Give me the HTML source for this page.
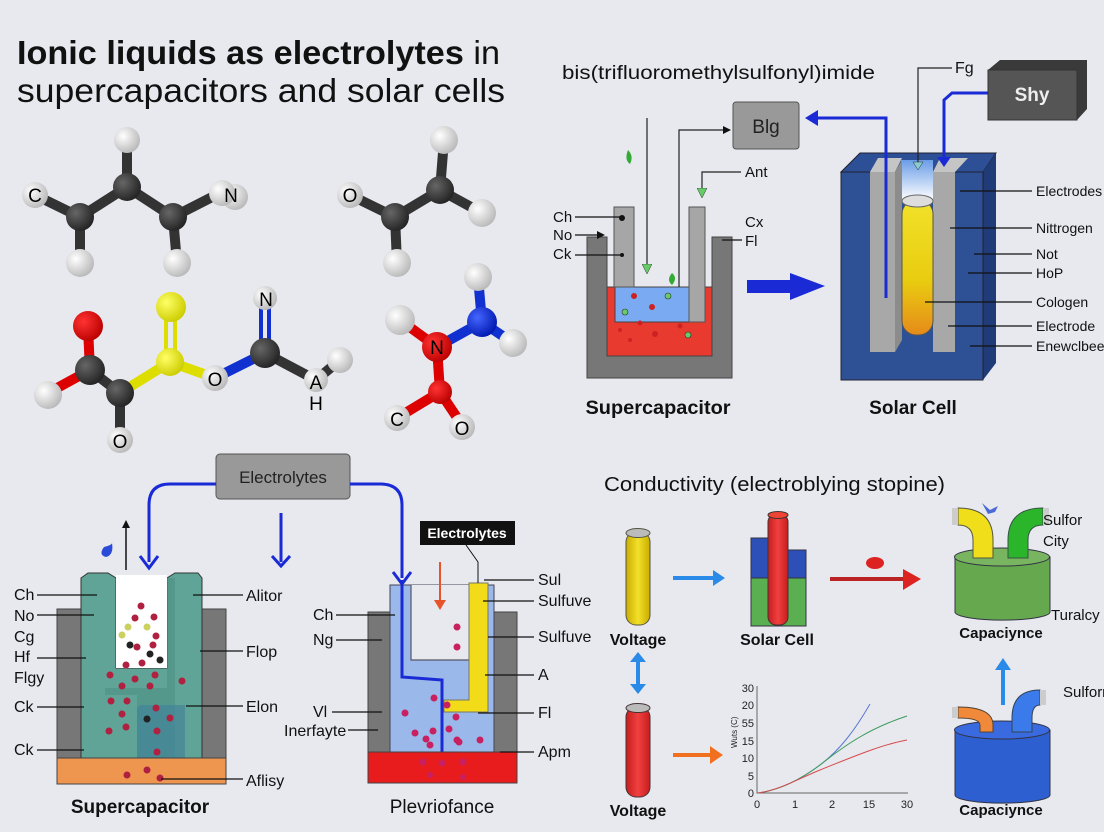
<!DOCTYPE html>
<html><head><meta charset="utf-8"><style>
html,body{margin:0;padding:0;background:#e7e9ef;}
svg{display:block;font-family:"Liberation Sans",sans-serif;}
</style></head><body>
<svg width="1104" height="832" viewBox="0 0 1104 832" xmlns="http://www.w3.org/2000/svg">
<defs>
<radialGradient id="gw" cx="35%" cy="35%" r="70%"><stop offset="0" stop-color="#fff"/><stop offset="1" stop-color="#b8b8b8"/></radialGradient>
<radialGradient id="gk" cx="35%" cy="35%" r="70%"><stop offset="0" stop-color="#666"/><stop offset="1" stop-color="#222"/></radialGradient>
<radialGradient id="gr" cx="35%" cy="35%" r="70%"><stop offset="0" stop-color="#f33"/><stop offset="1" stop-color="#b00"/></radialGradient>
<radialGradient id="gy" cx="35%" cy="35%" r="70%"><stop offset="0" stop-color="#ff6"/><stop offset="1" stop-color="#cc0"/></radialGradient>
<radialGradient id="gb" cx="35%" cy="35%" r="70%"><stop offset="0" stop-color="#46f"/><stop offset="1" stop-color="#0018b0"/></radialGradient>
<linearGradient id="tube" x1="0" y1="0" x2="0" y2="1"><stop offset="0" stop-color="#f1e22a"/><stop offset="0.6" stop-color="#e9cc10"/><stop offset="1" stop-color="#e58a1a"/></linearGradient>
<linearGradient id="glow" x1="0" y1="0" x2="0" y2="1"><stop offset="0" stop-color="#6a9de8"/><stop offset="1" stop-color="#ffffff"/></linearGradient>
<linearGradient id="cylY" x1="0" x2="1"><stop offset="0" stop-color="#c9ad00"/><stop offset="0.5" stop-color="#f3e02a"/><stop offset="1" stop-color="#c9ad00"/></linearGradient>
<linearGradient id="cylR" x1="0" x2="1"><stop offset="0" stop-color="#c81d1d"/><stop offset="0.5" stop-color="#f04040"/><stop offset="1" stop-color="#c81d1d"/></linearGradient>
<marker id="ak" markerWidth="8" markerHeight="8" refX="6" refY="4" orient="auto" markerUnits="userSpaceOnUse"><path d="M0,0 L8,4 L0,8 Z" fill="#111"/></marker>
<marker id="ag" markerWidth="10" markerHeight="10" refX="8" refY="5" orient="auto" markerUnits="userSpaceOnUse"><path d="M0,0 L10,5 L0,10 Z" fill="#6c6" stroke="#333" stroke-width="0.5"/></marker>
</defs>

<!-- Title -->
<text x="17" y="64" font-size="33" font-weight="bold" fill="#111" textLength="483" lengthAdjust="spacingAndGlyphs">Ionic liquids as electrolytes <tspan font-weight="normal">in</tspan></text>
<text x="17" y="102" font-size="33" fill="#111" textLength="488" lengthAdjust="spacingAndGlyphs">supercapacitors and solar cells</text>

<!-- Molecule 1 -->
<g stroke-linecap="round">
<g stroke="#333" stroke-width="10"><line x1="35" y1="195" x2="80" y2="217"/><line x1="80" y1="217" x2="127" y2="187"/><line x1="127" y1="187" x2="173" y2="217"/><line x1="173" y1="217" x2="220" y2="193"/><line x1="127" y1="187" x2="127" y2="140"/><line x1="80" y1="217" x2="80" y2="263"/><line x1="173" y1="217" x2="177" y2="263"/></g>
<circle cx="127" cy="140" r="13" fill="url(#gw)"/><circle cx="80" cy="263" r="14" fill="url(#gw)"/><circle cx="177" cy="263" r="14" fill="url(#gw)"/>
<circle cx="35" cy="195" r="13" fill="url(#gw)"/><circle cx="235" cy="197" r="13" fill="url(#gw)"/><circle cx="222" cy="193" r="13" fill="url(#gw)"/>
<circle cx="80" cy="217" r="14" fill="url(#gk)"/><circle cx="127" cy="187" r="14" fill="url(#gk)"/><circle cx="173" cy="217" r="14" fill="url(#gk)"/>
</g>
<text x="35" y="202" font-size="19" text-anchor="middle">C</text>
<text x="231" y="202" font-size="19" text-anchor="middle">N</text>
<!-- Molecule 2 -->
<g stroke="#333" stroke-width="10"><line x1="350" y1="195" x2="395" y2="217"/><line x1="395" y1="217" x2="440" y2="190"/><line x1="440" y1="190" x2="444" y2="140"/><line x1="440" y1="190" x2="482" y2="213"/><line x1="395" y1="217" x2="397" y2="263"/></g>
<circle cx="444" cy="140" r="14" fill="url(#gw)"/><circle cx="482" cy="213" r="14" fill="url(#gw)"/><circle cx="397" cy="263" r="14" fill="url(#gw)"/><circle cx="350" cy="195" r="13" fill="url(#gw)"/>
<circle cx="395" cy="217" r="14" fill="url(#gk)"/><circle cx="440" cy="190" r="14" fill="url(#gk)"/>
<text x="350" y="202" font-size="19" text-anchor="middle">O</text>
<!-- Molecule 3 -->
<g stroke-width="10"><line x1="88" y1="328" x2="90" y2="370" stroke="#d00"/><line x1="90" y1="370" x2="48" y2="393" stroke="#d00"/><line x1="90" y1="370" x2="120" y2="393" stroke="#333"/><line x1="120" y1="393" x2="120" y2="438" stroke="#333"/><line x1="120" y1="393" x2="170" y2="362" stroke="#dd0"/><line x1="170" y1="362" x2="215" y2="378" stroke="#dd0"/><line x1="215" y1="378" x2="265" y2="353" stroke="#1030d0"/><line x1="265" y1="353" x2="316" y2="380" stroke="#333"/><line x1="316" y1="380" x2="340" y2="360" stroke="#333"/></g>
<g stroke="#dd0" stroke-width="4"><line x1="166" y1="362" x2="166" y2="310"/><line x1="175" y1="362" x2="175" y2="310"/></g>
<g stroke="#1030d0" stroke-width="4"><line x1="261" y1="353" x2="261" y2="305"/><line x1="269" y1="353" x2="269" y2="305"/></g>
<circle cx="88" cy="326" r="15" fill="url(#gr)"/><circle cx="48" cy="395" r="14" fill="url(#gw)"/><circle cx="90" cy="370" r="15" fill="url(#gk)"/><circle cx="120" cy="393" r="14" fill="url(#gk)"/>
<circle cx="120" cy="440" r="13" fill="url(#gw)"/>
<circle cx="171" cy="307" r="15" fill="url(#gy)"/><circle cx="170" cy="362" r="14" fill="url(#gy)"/>
<circle cx="215" cy="378" r="13" fill="url(#gw)"/><circle cx="265" cy="353" r="15" fill="url(#gk)"/><circle cx="265" cy="298" r="12" fill="url(#gw)"/>
<circle cx="340" cy="360" r="13" fill="url(#gw)"/><circle cx="316" cy="380" r="12" fill="url(#gw)"/>
<text x="215" y="386" font-size="19" text-anchor="middle">O</text>
<text x="266" y="306" font-size="19" text-anchor="middle">N</text>
<text x="316" y="389" font-size="19" text-anchor="middle">A</text>
<text x="316" y="410" font-size="19" text-anchor="middle">H</text>
<text x="120" y="448" font-size="19" text-anchor="middle">O</text>
<!-- Molecule 4 -->
<g stroke-width="10"><line x1="400" y1="320" x2="437" y2="347" stroke="#d00"/><line x1="437" y1="347" x2="440" y2="392" stroke="#d00"/><line x1="440" y1="392" x2="397" y2="418" stroke="#d00"/><line x1="440" y1="392" x2="462" y2="425" stroke="#d00"/><line x1="437" y1="347" x2="482" y2="322" stroke="#1030d0"/><line x1="482" y1="322" x2="478" y2="277" stroke="#1030d0"/><line x1="482" y1="322" x2="513" y2="343" stroke="#1030d0"/></g>
<circle cx="400" cy="320" r="15" fill="url(#gw)"/><circle cx="478" cy="277" r="14" fill="url(#gw)"/><circle cx="513" cy="343" r="14" fill="url(#gw)"/>
<circle cx="482" cy="322" r="15" fill="url(#gb)"/><circle cx="437" cy="347" r="15" fill="url(#gr)"/><circle cx="440" cy="392" r="12" fill="url(#gr)"/>
<circle cx="397" cy="418" r="13" fill="url(#gw)"/><circle cx="462" cy="427" r="13" fill="url(#gw)"/>
<text x="437" y="354" font-size="19" text-anchor="middle">N</text>
<text x="397" y="426" font-size="19" text-anchor="middle">C</text>
<text x="462" y="435" font-size="19" text-anchor="middle">O</text>

<!-- Top right -->
<text x="562" y="79" font-size="19" fill="#111" textLength="313" lengthAdjust="spacingAndGlyphs">bis(trifluoromethylsulfonyl)imide</text>
<!-- Supercap 1 -->
<path d="M587,237 H607 V356 H712 V237 H732 V378 H587 Z" fill="#777" stroke="#444"/>
<rect x="607" y="287" width="105" height="69" fill="#e83a2e" stroke="#444"/>
<rect x="615" y="287" width="75" height="35" fill="#7aaaf2" stroke="#444"/>
<rect x="614" y="207" width="20" height="80" fill="#a6a6a6" stroke="#555"/>
<rect x="689" y="207" width="16" height="115" fill="#a6a6a6" stroke="#555"/>
<g fill="#c22"><circle cx="634" cy="296" r="3"/><circle cx="652" cy="307" r="3"/><circle cx="640" cy="323" r="2.5"/><circle cx="680" cy="326" r="2.5"/><circle cx="655" cy="334" r="3"/><circle cx="630" cy="340" r="2"/><circle cx="620" cy="330" r="2"/></g>
<g fill="#6c6" stroke="#333" stroke-width="0.6"><circle cx="625" cy="312" r="3"/><circle cx="668" cy="296" r="3"/><circle cx="688" cy="335" r="3"/></g>
<line x1="647" y1="118" x2="647" y2="272" stroke="#222" stroke-width="1.2" marker-end="url(#ag)"/>
<polyline points="679,287 679,130 729,130" fill="none" stroke="#222" stroke-width="1.2" marker-end="url(#ak)"/>
<polyline points="741,172 702,172 702,196" fill="none" stroke="#222" stroke-width="1.2" marker-end="url(#ag)"/>
<path d="M628,150 q6,6 2,14 q-6,-4 -2,-14z" fill="#3a3"/><path d="M672,273 q6,5 0,12 q-6,-5 0,-12z" fill="#3a3"/>
<g font-size="15" fill="#111"><text x="553" y="222">Ch</text><text x="553" y="240">No</text><text x="553" y="259">Ck</text><text x="745" y="177">Ant</text><text x="745" y="227">Cx</text><text x="745" y="246">Fl</text></g>
<g stroke="#111" stroke-width="1.2"><line x1="575" y1="217" x2="620" y2="217"/><line x1="575" y1="235" x2="603" y2="235" marker-end="url(#ak)"/><line x1="575" y1="255" x2="622" y2="255"/><line x1="722" y1="240" x2="742" y2="240"/></g>
<circle cx="622" cy="218" r="3" fill="#111"/><circle cx="622" cy="255" r="2" fill="#111"/>
<text x="658" y="414" font-size="19" font-weight="bold" text-anchor="middle" fill="#111" textLength="145" lengthAdjust="spacingAndGlyphs">Supercapacitor</text>
<!-- Blg -->
<rect x="733" y="102" width="66" height="47" rx="3" fill="#999" stroke="#555"/>
<text x="766" y="133" font-size="19" text-anchor="middle" fill="#222">Blg</text>
<polyline points="886,300 886,118 808,118" fill="none" stroke="#1a2bd6" stroke-width="3"/>
<path d="M805,118 l13,-8 v16z" fill="#1a2bd6"/>
<path d="M879,290 h14 l-7,12 z" fill="#1a2bd6"/>
<!-- big arrow -->
<rect x="747" y="280" width="45" height="13" fill="#1a2bd6"/><path d="M790,273 L825,286 L790,300 Z" fill="#1a2bd6"/>
<!-- Solar cell -->
<path d="M841,172 L860,153 L996,153 L983,172 Z" fill="#2d4f96" stroke="#223"/>
<path d="M983,172 L996,153 L996,363 L983,380 Z" fill="#1f3b78"/>
<rect x="841" y="172" width="142" height="208" fill="#2e5196" stroke="#223"/>
<rect x="901" y="160" width="32" height="40" fill="url(#glow)"/>
<path d="M870,172 L878,158 L902,158 L895,172 Z" fill="#c5c5c5"/><rect x="870" y="172" width="25" height="180" fill="#a8a8a8"/><path d="M895,172 L902,160 V340 L895,352Z" fill="#8c8c8c"/>
<path d="M933,172 L940,158 L968,158 L955,172 Z" fill="#c5c5c5"/><rect x="933" y="172" width="22" height="180" fill="#a8a8a8"/>
<rect x="902" y="200" width="31" height="135" rx="14" fill="url(#tube)" stroke="#555"/>
<ellipse cx="917.5" cy="201" rx="15.5" ry="6" fill="#ddd" stroke="#666"/>
<line x1="886" y1="118" x2="886" y2="298" stroke="#1a2bd6" stroke-width="3"/>
<polyline points="988,93 952,93 944,100 944,160" fill="none" stroke="#1a2bd6" stroke-width="3"/>
<path d="M937,157 h14 l-7,10 z" fill="#1a2bd6"/>
<polyline points="952,68 918,68 918,165" fill="none" stroke="#222" stroke-width="1.2"/>
<path d="M913,162 h10 l-5,8z" fill="#8cc" stroke="#333" stroke-width="0.5"/>
<text x="955" y="73" font-size="16" fill="#111">Fg</text>
<g stroke="#111" stroke-width="1.2"><line x1="960" y1="191" x2="1032" y2="191"/><line x1="950" y1="228" x2="1032" y2="228"/><line x1="974" y1="254" x2="1032" y2="254"/><line x1="968" y1="273" x2="1032" y2="273"/><line x1="925" y1="302" x2="1032" y2="302"/><line x1="948" y1="326" x2="1032" y2="326"/><line x1="970" y1="346" x2="1032" y2="346"/></g>
<g font-size="14" fill="#111"><text x="1036" y="196">Electrodes</text><text x="1036" y="233">Nittrogen</text><text x="1036" y="259">Not</text><text x="1036" y="278">HoP</text><text x="1036" y="307">Cologen</text><text x="1036" y="331">Electrode</text><text x="1036" y="351">Enewclbee</text></g>
<text x="913" y="414" font-size="19" font-weight="bold" text-anchor="middle" fill="#111">Solar Cell</text>
<!-- Shy -->
<path d="M988,70 L1000,60 L1087,60 L1087,109 L1077,120 Z" fill="#3a3a3a"/>
<rect x="988" y="70" width="89" height="50" fill="#555" stroke="#333"/>
<text x="1032" y="101" font-size="19" font-weight="bold" text-anchor="middle" fill="#eee">Shy</text>

<!-- Bottom left -->
<rect x="216" y="454" width="134" height="45" rx="4" fill="#999" stroke="#555"/>
<text x="283" y="483" font-size="17" text-anchor="middle" fill="#222">Electrolytes</text>
<path d="M216,484 H170 Q149,484 149,505 V562" fill="none" stroke="#1a2bd6" stroke-width="3"/>
<path d="M140,556 L149,568 L158,556" fill="none" stroke="#1a2bd6" stroke-width="3"/>
<path d="M350,484 H380 Q402,484 402,505 V578" fill="none" stroke="#1a2bd6" stroke-width="3"/>
<path d="M393,572 L402,584 L411,572" fill="none" stroke="#1a2bd6" stroke-width="3"/>
<line x1="281" y1="513" x2="281" y2="562" stroke="#1a2bd6" stroke-width="3"/><path d="M272,556 L281,566 L290,556" fill="none" stroke="#1a2bd6" stroke-width="3"/>
<line x1="126" y1="570" x2="126" y2="522" stroke="#111" stroke-width="1.5" marker-end="url(#ak)"/>
<path d="M104,547 q8,-2 8,-4 q2,12 -6,14 q-8,-2 -2,-10z" fill="#2a4ad8"/>
<!-- supercap 2 -->
<rect x="57" y="609" width="169" height="175" fill="#777" stroke="#444"/>
<path d="M81,578 L88,573 L108,573 L116,578 V668 H167 V578 L175,573 L198,573 L202,578 V758 H81Z" fill="#5fa496" stroke="#333"/>
<rect x="116" y="575" width="51" height="93" fill="#fff"/>
<path d="M105,578 V688 H167 V578 H175 V758 H137 V695 L105,695 Z" fill="#4a8c82" opacity="0.5"/>
<path d="M137,758 V710 Q137,705 142,705 H185 V758Z" fill="#3f7f9a" opacity="0.6"/>
<rect x="57" y="758" width="169" height="26" fill="#ee9650" stroke="#444"/>
<g fill="#b02040"><circle cx="141" cy="606" r="3.5"/><circle cx="135" cy="618" r="3.5"/><circle cx="154" cy="617" r="3.5"/><circle cx="156" cy="636" r="3.5"/><circle cx="137" cy="647" r="3.5"/><circle cx="142" cy="663" r="3.5"/><circle cx="153" cy="645" r="3.5"/><circle cx="126" cy="665" r="3.5"/><circle cx="110" cy="675" r="3.5"/><circle cx="135" cy="679" r="3.5"/><circle cx="155" cy="675" r="3.5"/><circle cx="122" cy="686" r="3.5"/><circle cx="150" cy="686" r="3.5"/><circle cx="182" cy="681" r="3.5"/><circle cx="111" cy="701" r="3.5"/><circle cx="127" cy="701" r="3.5"/><circle cx="156" cy="708" r="3.5"/><circle cx="122" cy="714" r="3.5"/><circle cx="170" cy="718" r="3.5"/><circle cx="109" cy="731" r="3.5"/><circle cx="126" cy="727" r="3.5"/><circle cx="157" cy="731" r="3.5"/><circle cx="157" cy="752" r="3.5"/><circle cx="127" cy="775" r="3.5"/><circle cx="147" cy="770" r="3.5"/><circle cx="160" cy="778" r="3.5"/></g>
<g fill="#ccd060"><circle cx="128" cy="627" r="3.5"/><circle cx="147" cy="627" r="3.5"/><circle cx="122" cy="635" r="3.5"/></g>
<g fill="#222"><circle cx="130" cy="645" r="3.5"/><circle cx="150" cy="654" r="3.5"/><circle cx="160" cy="660" r="3.5"/><circle cx="147" cy="719" r="3.5"/></g>
<g font-size="16" fill="#111"><text x="14" y="600">Ch</text><text x="14" y="621">No</text><text x="14" y="642">Cg</text><text x="14" y="662">Hf</text><text x="14" y="683">Flgy</text><text x="14" y="712">Ck</text><text x="14" y="755">Ck</text><text x="246" y="601">Alitor</text><text x="246" y="657">Flop</text><text x="246" y="712">Elon</text><text x="246" y="786">Aflisy</text></g>
<g stroke="#111" stroke-width="1.2"><line x1="37" y1="595" x2="97" y2="595"/><line x1="37" y1="615" x2="94" y2="615"/><line x1="37" y1="658" x2="86" y2="658"/><line x1="37" y1="707" x2="84" y2="707"/><line x1="37" y1="750" x2="84" y2="750"/><line x1="193" y1="595" x2="243" y2="595"/><line x1="200" y1="651" x2="243" y2="651"/><line x1="186" y1="706" x2="243" y2="706"/><line x1="161" y1="779" x2="243" y2="779"/></g>
<text x="140" y="813" font-size="19" font-weight="bold" text-anchor="middle" fill="#111">Supercapacitor</text>
<!-- right device -->
<rect x="368" y="612" width="149" height="171" fill="#777" stroke="#444"/>
<rect x="390" y="585" width="104" height="167" fill="#9ab9ea" stroke="#445"/>
<rect x="411" y="585" width="58" height="75" fill="#e7e9ef"/>
<polyline points="411,585 411,660 469,660" fill="none" stroke="#556" stroke-width="1.2"/>
<path d="M469,583 H488 V712 H444 V700 H469 Z" fill="#f2dc1a" stroke="#776" stroke-width="1"/>
<polyline points="402,580 402,677 442,680 442,752" fill="none" stroke="#1a2bd6" stroke-width="3"/>
<rect x="368" y="752" width="149" height="31" fill="#e81c1c" stroke="#444"/>
<g fill="#c82060"><circle cx="457" cy="627" r="3.5"/><circle cx="457" cy="647" r="3.5"/><circle cx="434" cy="698" r="3.5"/><circle cx="447" cy="705" r="3.5"/><circle cx="456" cy="717" r="3.5"/><circle cx="449" cy="729" r="3.5"/><circle cx="426" cy="739" r="3.5"/><circle cx="430" cy="745" r="3.5"/><circle cx="405" cy="713" r="3.5"/><circle cx="457" cy="740" r="3.5"/><circle cx="415" cy="733" r="3.5"/><circle cx="433" cy="731" r="3.5"/><circle cx="480" cy="740" r="3.5"/><circle cx="459" cy="742" r="3.5"/><circle cx="423" cy="762" r="3.5"/><circle cx="442" cy="763" r="3.5"/><circle cx="463" cy="762" r="3.5"/><circle cx="430" cy="775" r="3"/><circle cx="463" cy="777" r="3"/></g>
<line x1="440" y1="562" x2="440" y2="605" stroke="#e8542a" stroke-width="2"/><path d="M434,600 h12 l-6,10z" fill="#e8542a"/>
<rect x="420" y="521" width="95" height="24" fill="#111"/>
<text x="467" y="538" font-size="14" font-weight="bold" text-anchor="middle" fill="#fff">Electrolytes</text>
<polyline points="466,545 478,562 478,583" fill="none" stroke="#111" stroke-width="1"/>
<g font-size="16" fill="#111"><text x="538" y="585">Sul</text><text x="538" y="606">Sulfuve</text><text x="538" y="642">Sulfuve</text><text x="538" y="680">A</text><text x="538" y="718">Fl</text><text x="538" y="757">Apm</text><text x="313" y="620">Ch</text><text x="313" y="645">Ng</text><text x="313" y="717">Vl</text><text x="284" y="736">Inerfayte</text></g>
<g stroke="#111" stroke-width="1.2"><line x1="484" y1="580" x2="534" y2="580"/><line x1="483" y1="601" x2="534" y2="601"/><line x1="488" y1="637" x2="534" y2="637"/><line x1="485" y1="675" x2="534" y2="675"/><line x1="478" y1="713" x2="534" y2="713"/><line x1="500" y1="752" x2="534" y2="752"/><line x1="336" y1="615" x2="395" y2="615"/><line x1="336" y1="640" x2="382" y2="640"/><line x1="332" y1="712" x2="382" y2="712"/><line x1="348" y1="730" x2="378" y2="730"/></g>
<text x="442" y="813" font-size="19" text-anchor="middle" fill="#111">Plevriofance</text>

<!-- Bottom right -->
<text x="604" y="491" font-size="20" fill="#111" textLength="341" lengthAdjust="spacingAndGlyphs">Conductivity (electroblying stopine)</text>
<rect x="626" y="532" width="24" height="93" rx="10" fill="url(#cylY)" stroke="#554"/>
<ellipse cx="638" cy="533" rx="12" ry="4.5" fill="#bbb" stroke="#554"/>
<text x="638" y="645" font-size="16" font-weight="bold" text-anchor="middle" fill="#111">Voltage</text>
<line x1="673" y1="578" x2="716" y2="578" stroke="#2a8ae8" stroke-width="4"/><path d="M713,570 L725,578 L713,586Z" fill="#2a8ae8"/>
<rect x="751" y="538" width="18" height="40" fill="#2c4fb8" stroke="#334"/><rect x="787" y="550" width="19" height="28" fill="#2c4fb8" stroke="#334"/>
<rect x="751" y="578" width="55" height="48" fill="#5ab050" stroke="#334"/>
<rect x="768" y="514" width="20" height="111" rx="8" fill="url(#cylR)" stroke="#433"/>
<ellipse cx="778" cy="515" rx="10" ry="3.5" fill="#e43" stroke="#433"/>
<text x="777" y="645" font-size="16" font-weight="bold" text-anchor="middle" fill="#111">Solar Cell</text>
<line x1="830" y1="579" x2="906" y2="579" stroke="#b22" stroke-width="4"/><path d="M903,569 L921,579 L903,590Z" fill="#d22"/>
<ellipse cx="875" cy="563" rx="9" ry="6" fill="#d22"/>
<!-- green cylinder -->
<path d="M955,557 V612 A47,8 0 0 0 1050,612 V557Z" fill="#66a84e" stroke="#334"/>
<ellipse cx="1002" cy="557" rx="47.5" ry="9" fill="#79b561" stroke="#334"/>
<path d="M958,508 Q993,508 993,540 V558 H973 V540 Q973,525 958,525 Z" fill="#f0de1a" stroke="#554"/>
<path d="M1043,508 Q1008,508 1008,540 V558 H1028 V540 Q1028,525 1043,525 Z" fill="#2bb52b" stroke="#354"/>
<path d="M952,508 h6 v17 h-6z" fill="#ccc"/><path d="M1043,508 h6 v17 h-6z" fill="#ccc"/>
<path d="M982,503 L990,510 L998,506 L995,512 L988,514Z" fill="#4a6ad8"/>
<g font-size="15" fill="#111"><text x="1043" y="525">Sulfor</text><text x="1043" y="546">City</text><text x="1051" y="620">Turalcy</text><text x="1063" y="697">Sulforn</text></g>
<text x="1001" y="638" font-size="15" font-weight="bold" text-anchor="middle" fill="#111">Capaciynce</text>
<!-- double arrow -->
<line x1="638" y1="660" x2="638" y2="686" stroke="#2a8ae8" stroke-width="4"/><path d="M630,662 L638,652 L646,662Z M630,684 L638,694 L646,684Z" fill="#2a8ae8"/>
<rect x="626" y="707" width="24" height="90" rx="10" fill="url(#cylR)" stroke="#433"/>
<ellipse cx="638" cy="708" rx="12" ry="4.5" fill="#bbb" stroke="#433"/>
<text x="638" y="816" font-size="16" font-weight="bold" text-anchor="middle" fill="#111">Voltage</text>
<line x1="673" y1="755" x2="713" y2="755" stroke="#f07020" stroke-width="4"/><path d="M710,746 L723,755 L710,764Z" fill="#f07020"/>
<!-- chart -->
<polyline points="757,686 757,793 908,793" fill="none" stroke="#666" stroke-width="1"/>
<g font-size="11" fill="#222" text-anchor="end"><text x="754" y="692">30</text><text x="754" y="709">20</text><text x="754" y="727">55</text><text x="754" y="745">15</text><text x="754" y="762">10</text><text x="754" y="780">5</text><text x="754" y="797">0</text></g>
<g font-size="11" fill="#222" text-anchor="middle"><text x="757" y="808">0</text><text x="795" y="808">1</text><text x="832" y="808">2</text><text x="869" y="808">15</text><text x="907" y="808">30</text></g>
<text x="737" y="748" font-size="8" fill="#222" transform="rotate(-90 737 748)">Wuts (C)</text>
<path d="M758,793 C780,790 800,780 820,765 C840,750 855,730 870,704" fill="none" stroke="#5a7ad0" stroke-width="1"/>
<path d="M758,793 C780,790 800,780 820,765 C845,745 870,728 907,716" fill="none" stroke="#3a9a5a" stroke-width="1"/>
<path d="M758,793 C780,790 800,778 820,770 C850,758 880,745 907,740" fill="none" stroke="#d84a4a" stroke-width="1"/>
<!-- blue up arrow -->
<line x1="1003" y1="668" x2="1003" y2="705" stroke="#2a8ae8" stroke-width="4"/><path d="M995,670 L1003,658 L1011,670Z" fill="#2a8ae8"/>
<!-- blue cylinder -->
<path d="M955,730 V795 A47,8 0 0 0 1050,795 V730Z" fill="#2d5fd0" stroke="#334"/>
<ellipse cx="1002" cy="730" rx="47.5" ry="9" fill="#3a6ae0" stroke="#334"/>
<path d="M958,707 Q993,707 993,725 V732 H980 V725 Q980,718 958,718Z" fill="#f08a3a" stroke="#543"/>
<path d="M1040,690 Q1012,690 1012,718 V732 H1032 V718 Q1032,705 1040,705Z" fill="#3a7aea" stroke="#345"/>
<path d="M952,707 h6 v11 h-6z" fill="#ccc"/><path d="M1040,690 h6 v15 h-6z" fill="#ccc"/>
<text x="1001" y="815" font-size="15" font-weight="bold" text-anchor="middle" fill="#111">Capaciynce</text>
</svg>
</body></html>
